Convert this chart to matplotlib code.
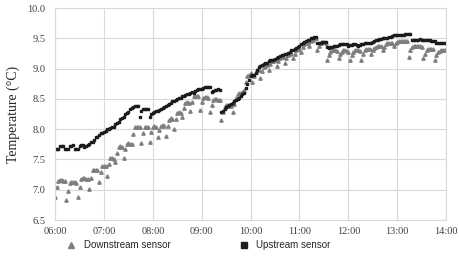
import numpy as np
import matplotlib as mpl
mpl.use('Agg')
import matplotlib.pyplot as plt
from matplotlib.ticker import FuncFormatter

# readings every 2 minutes starting at 06:00
downstream = [
    # 06:00
    6.88, 7.04, 7.15, 7.16, 7.16, 7.15, 7.14,
    6.83, 6.98, 7.11, 7.13, 7.13, 7.12, 7.11,
    6.88, 7.05, 7.17, 7.19, 7.19, 7.18, 7.17,
    7.02, 7.20, 7.32, 7.33, 7.33, 7.32,
    7.12, 7.30, 7.40, 7.40, 7.39,
    # 07:00
    7.22, 7.42, 7.52, 7.52, 7.50,
    7.45, 7.60, 7.70, 7.72, 7.71,
    7.52, 7.68, 7.76, 7.77, 7.76,
    7.76, 7.92, 8.03, 8.04, 8.04, 8.03,
    7.78, 7.93, 8.03, 8.04, 8.03,
    7.79, 7.95, 8.04, 8.05, 8.04,
    # 08:00
    7.87, 7.98, 8.06, 8.07, 8.06,
    7.88, 8.05, 8.16, 8.18, 8.17,
    8.00, 8.17, 8.26, 8.28, 8.27,
    8.20, 8.35, 8.44, 8.45, 8.44,
    8.30, 8.45, 8.54, 8.55, 8.55, 8.54,
    8.32, 8.45, 8.52, 8.53, 8.53, 8.52,
    # 09:00
    8.28, 8.40, 8.48, 8.50, 8.50, 8.49, 8.48,
    8.15, 8.28, 8.36, 8.40, 8.40, 8.39, 8.38,
    8.28, 8.42, 8.52, 8.58, 8.60, 8.60, 8.62,
    8.65, 8.78, 8.88, 8.90, 8.92,
    # 10:00
    8.78, 8.88, 8.95, 8.97, 8.98,
    8.85, 8.96, 9.03, 9.05, 9.06,
    8.98, 9.07, 9.12, 9.13, 9.14,
    9.05, 9.13, 9.18, 9.20, 9.20,
    9.10, 9.18, 9.23, 9.25, 9.26,
    9.18, 9.25, 9.30, 9.32, 9.32,
    # 11:00
    9.28, 9.35, 9.40, 9.42, 9.43,
    9.38, 9.45, 9.48, 9.50, 9.50,
    9.30, 9.38, 9.42, 9.44, 9.44, 9.43,
    9.15, 9.23, 9.28, 9.30, 9.30, 9.30, 9.29,
    9.18, 9.24, 9.28, 9.30, 9.30, 9.29, 9.28,
    # 12:00
    9.15, 9.22, 9.27, 9.30, 9.30, 9.30, 9.29,
    9.15, 9.24, 9.30, 9.32, 9.33, 9.33,
    9.24, 9.30, 9.34, 9.36, 9.37, 9.37, 9.38,
    9.30, 9.36, 9.40, 9.42, 9.42, 9.43, 9.43,
    9.38, 9.42, 9.44, 9.45, 9.46, 9.46, 9.46, 9.46, 9.45,
    # 13:00
    9.20, 9.30, 9.36, 9.38, 9.38, 9.38, 9.37, 9.37, 9.36,
    9.17, 9.25, 9.30, 9.32, 9.33, 9.33, 9.32,
    9.15, 9.22, 9.27, 9.29, 9.30, 9.30, 9.30, 9.30,
]

upstream = [
    7.67, 7.67, 7.68, 7.73, 7.73, 7.73, 7.67, 7.67, 7.68, 7.73,
    7.73, 7.74, 7.67, 7.68, 7.68, 7.73, 7.74, 7.74, 7.70, 7.72,
    7.74, 7.76, 7.79, 7.79, 7.82, 7.87, 7.87, 7.90, 7.94, 7.94,
    7.95, 7.97, 8.00, 8.01, 8.02, 8.04, 8.04, 8.08, 8.10, 8.12,
    8.17, 8.18, 8.20, 8.25, 8.27, 8.29, 8.33, 8.35, 8.36, 8.38,
    8.38, 8.38, 8.20, 8.30, 8.33, 8.34, 8.34, 8.33, 8.20, 8.25,
    8.27, 8.28, 8.30, 8.30, 8.32, 8.34, 8.35, 8.36, 8.38, 8.40,
    8.42, 8.44, 8.46, 8.47, 8.48, 8.50, 8.51, 8.52, 8.54, 8.55,
    8.57, 8.58, 8.58, 8.60, 8.62, 8.60, 8.63, 8.65, 8.66, 8.67,
    8.67, 8.68, 8.69, 8.70, 8.70, 8.70, 8.62, 8.63, 8.64, 8.65,
    8.66, 8.65, 8.28, 8.30, 8.33, 8.36, 8.38, 8.40, 8.42, 8.44,
    8.46, 8.48, 8.50, 8.52, 8.55, 8.58, 8.60, 8.68, 8.75, 8.82,
    8.88, 8.90, 8.90, 8.92, 8.98, 9.02, 9.05, 9.06, 9.08, 9.10,
    9.10, 9.12, 9.14, 9.15, 9.15, 9.16, 9.18, 9.20, 9.21, 9.22,
    9.22, 9.24, 9.25, 9.26, 9.28, 9.30, 9.31, 9.32, 9.34, 9.36,
    9.38, 9.40, 9.42, 9.44, 9.46, 9.47, 9.48, 9.50, 9.51, 9.52,
    9.52, 9.42, 9.43, 9.43, 9.44, 9.44, 9.44, 9.35, 9.34, 9.35,
    9.36, 9.37, 9.38, 9.38, 9.39, 9.40, 9.40, 9.40, 9.41, 9.40,
    9.38, 9.39, 9.39, 9.40, 9.40, 9.39, 9.38, 9.39, 9.40, 9.41,
    9.42, 9.42, 9.43, 9.43, 9.42, 9.44, 9.46, 9.48, 9.48, 9.49,
    9.49, 9.50, 9.50, 9.51, 9.51, 9.52, 9.53, 9.54, 9.55, 9.55,
    9.55, 9.56, 9.56, 9.56, 9.56, 9.57, 9.57, 9.57, 9.57, 9.47,
    9.47, 9.48, 9.48, 9.48, 9.49, 9.48, 9.47, 9.47, 9.48, 9.48,
    9.47, 9.46, 9.46, 9.45, 9.42, 9.42, 9.42, 9.43, 9.43, 9.43,
    9.43,
]

hour_ticks = [6, 7, 8, 9, 10, 11, 12, 13, 14]
temp_ticks = [6.5, 7.0, 7.5, 8.0, 8.5, 9.0, 9.5, 10.0]

t_down = 6 + np.arange(len(downstream)) * 2 / 60
t_up = 6 + np.arange(len(upstream)) * 2 / 60

fig = plt.figure(figsize=(4.59, 2.61), dpi=100)
ax = fig.add_axes([0.12, 0.157, 0.852, 0.812])

grid_c = '#d9d9d9'
ax.plot(t_down, downstream, ls='none', marker='^', ms=2.4, color='#7f7f7f',
        mec='#7f7f7f', label='Downstream sensor')
ax.plot(t_up, upstream, ls='none', marker='s', ms=2.0, color='#1c1c1c',
        mec='#1c1c1c', label='Upstream sensor')

ax.set_xlim(6, 14)
ax.set_ylim(6.5, 10.0)
ax.set_xticks(hour_ticks)
ax.set_yticks(temp_ticks)
ax.xaxis.set_major_formatter(FuncFormatter(lambda v, p: '%02d:00' % int(round(v))))
ax.yaxis.set_major_formatter(FuncFormatter(lambda v, p: '%.1f' % v))
ax.grid(True, color=grid_c, lw=0.8)
ax.set_axisbelow(True)
for s in ax.spines.values():
    s.set_color(grid_c)
    s.set_linewidth(0.8)
ax.tick_params(length=0, labelsize=7.5, labelcolor='#404040')
ax.tick_params(axis='x', pad=5)
ax.tick_params(axis='y', pad=7)
for lab in ax.get_xticklabels() + ax.get_yticklabels():
    lab.set_family('Liberation Serif')

ax.set_ylabel('Temperature (\u00b0C)', family='Liberation Serif', fontsize=10,
              color='#262626', labelpad=5)

leg = fig.legend(loc='upper left', bbox_to_anchor=(0.145, 0.08), ncol=2,
                 frameon=False, prop={'family': 'Liberation Sans', 'size': 7},
                 handlelength=1.0, handletextpad=0.8, columnspacing=7.0,
                 borderaxespad=0, borderpad=0, markerscale=2.0)
for t in leg.get_texts():
    t.set_color('#262626')

fig.savefig('out.png', dpi=100)
